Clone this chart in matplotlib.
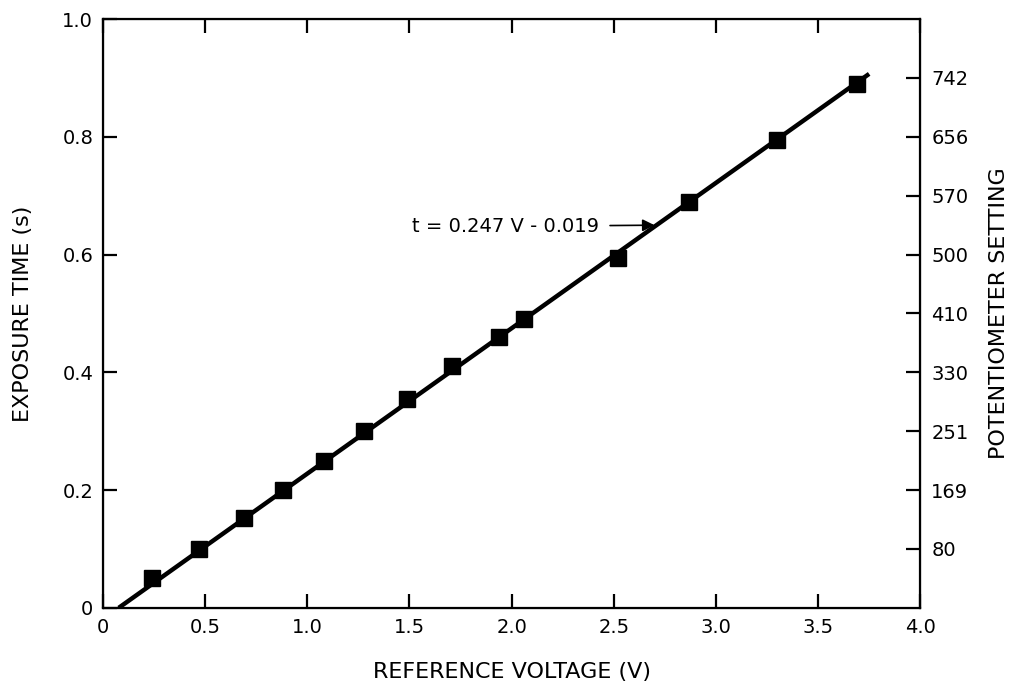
import matplotlib.pyplot as plt

plt.rcParams["font.family"] = ["DejaVu Sans"]

# measured points
voltage = [0.24, 0.47, 0.69, 0.88, 1.08, 1.28, 1.49, 1.71, 1.94, 2.06, 2.52, 2.87, 3.30, 3.69]
exposure = [0.05, 0.10, 0.153, 0.20, 0.25, 0.30, 0.355, 0.41, 0.46, 0.49, 0.595, 0.69, 0.795, 0.89]

# fitted line end points
fit_v = [0.077, 3.75]
fit_t = [0.0, 0.907]

x_ticks = [0, 0.5, 1.0, 1.5, 2.0, 2.5, 3.0, 3.5, 4.0]
x_labels = ["0", "0.5", "1.0", "1.5", "2.0", "2.5", "3.0", "3.5", "4.0"]
y_ticks = [0, 0.2, 0.4, 0.6, 0.8, 1.0]
y_labels = ["0", "0.2", "0.4", "0.6", "0.8", "1.0"]
pot_pos = [0.1, 0.2, 0.3, 0.4, 0.5, 0.6, 0.7, 0.8, 0.9]
pot_labels = ["80", "169", "251", "330", "410", "500", "570", "656", "742"]

fs = 14
lfs = 16

fig = plt.figure(figsize=(10.09, 6.83), dpi=100)
ax = fig.add_axes([0.102, 0.110, 0.810, 0.862])

ax.plot(fit_v, fit_t, color="black", lw=3.2, solid_capstyle="butt")
ax.plot(voltage, exposure, ls="none", marker="s", ms=11.5, color="black")

ax.set_xlim(0, 4.0)
ax.set_ylim(0, 1.0)
ax.set_xticks(x_ticks, x_labels)
ax.set_yticks(y_ticks, y_labels)
ax.tick_params(direction="in", length=10, width=1.6, labelsize=fs, pad=7,
               top=True, right=False)
for s in ax.spines.values():
    s.set_linewidth(1.6)

ax.set_xlabel("REFERENCE VOLTAGE (V)", fontsize=lfs, labelpad=18)
ax.set_ylabel("EXPOSURE TIME (s)", fontsize=lfs, labelpad=21)

ax2 = ax.twinx()
ax2.set_ylim(0, 1.0)
ax2.set_yticks(pot_pos, pot_labels)
ax2.tick_params(direction="in", length=10, width=1.6, labelsize=fs, pad=8)
ax2.set_ylabel("POTENTIOMETER SETTING", fontsize=lfs, labelpad=15)

ax.annotate("t = 0.247 V - 0.019", xy=(2.70, 0.650), xytext=(1.97, 0.648),
            fontsize=fs, ha="center", va="center",
            arrowprops=dict(arrowstyle="-|>", color="black", lw=1.2,
                            mutation_scale=18, shrinkA=6, shrinkB=0))

fig.savefig("out.png", dpi=100)
